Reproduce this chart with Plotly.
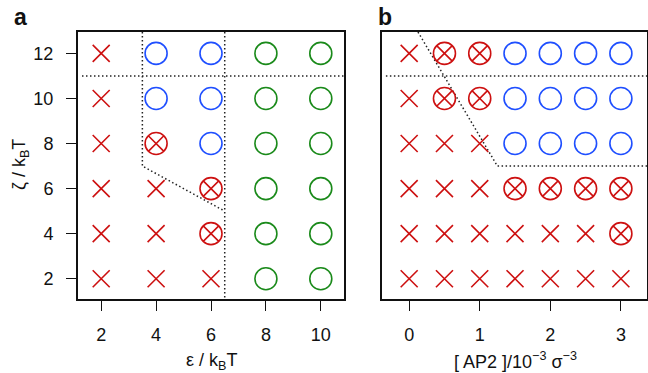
import plotly.graph_objects as go

# ---------------- data ----------------
# Panel a: eps (x) vs zeta (y)
eps_vals = [2, 4, 6, 8, 10]
zeta_vals = [2, 4, 6, 8, 10, 12]
# state codes: "x" = none (red cross), "cx" = red circled cross,
# "b" = blue circle, "g" = green circle ; rows follow zeta_vals
state_a = [
    ["x", "x", "x", "g", "g"],    # zeta 2
    ["x", "x", "cx", "g", "g"],   # zeta 4
    ["x", "x", "cx", "g", "g"],   # zeta 6
    ["x", "cx", "b", "g", "g"],   # zeta 8
    ["x", "b", "b", "g", "g"],    # zeta 10
    ["x", "b", "b", "g", "g"],    # zeta 12
]

# Panel b: [AP2] (x) vs zeta (y)
ap2_vals = [0, 0.5, 1, 1.5, 2, 2.5, 3]
state_b = [
    ["x", "x", "x", "x", "x", "x", "x"],         # zeta 2
    ["x", "x", "x", "x", "x", "x", "cx"],        # zeta 4
    ["x", "x", "x", "cx", "cx", "cx", "cx"],     # zeta 6
    ["x", "x", "x", "b", "b", "b", "b"],         # zeta 8
    ["x", "cx", "cx", "b", "b", "b", "b"],       # zeta 10
    ["x", "cx", "cx", "b", "b", "b", "b"],       # zeta 12
]

# phase boundaries (dotted)
bnd_a1_x = [1.3, 10.845];    bnd_a1_y = [11, 11]
bnd_a2_x = [3.5, 3.5, 6.5];  bnd_a2_y = [12.95, 7, 5]
bnd_a3_x = [6.5, 6.5];       bnd_a3_y = [12.95, 1.1]
bnd_b1_x = [-0.33, 3.37];    bnd_b1_y = [11, 11]
bnd_b2_x = [0.125, 1.25, 3.37]; bnd_b2_y = [12.95, 7, 7]

# ---------------- styles ----------------
RED = "#CD1010"
BLUE = "#1F4FFF"
GREEN = "#1A8A1A"
styles = {
    "x": dict(symbol="x-thin-open", size=17, color=RED, line=dict(color=RED, width=1.6)),
    "cx": dict(symbol="circle-x-open", size=22, color=RED, line=dict(color=RED, width=1.6)),
    "b": dict(symbol="circle-open", size=22, color=BLUE, line=dict(color=BLUE, width=1.6)),
    "g": dict(symbol="circle-open", size=22, color=GREEN, line=dict(color=GREEN, width=1.6)),
}

fig = go.Figure()


def add_panel(xvals, yvals, states, xa, ya):
    for code, mk in styles.items():
        xs, ys = [], []
        for i, yv in enumerate(yvals):
            for j, xv in enumerate(xvals):
                if states[i][j] == code:
                    xs.append(xv)
                    ys.append(yv)
        if xs:
            fig.add_trace(go.Scatter(x=xs, y=ys, mode="markers", marker=mk,
                                     xaxis=xa, yaxis=ya, showlegend=False,
                                     hoverinfo="skip"))


def add_line(xs, ys, xa, ya):
    fig.add_trace(go.Scatter(x=xs, y=ys, mode="lines",
                             line=dict(color="#222222", width=1.5, dash="1.5px,2.5px"),
                             xaxis=xa, yaxis=ya, showlegend=False, hoverinfo="skip"))


add_line(bnd_a1_x, bnd_a1_y, "x", "y")
add_line(bnd_a2_x, bnd_a2_y, "x", "y")
add_line(bnd_a3_x, bnd_a3_y, "x", "y")
add_line(bnd_b1_x, bnd_b1_y, "x2", "y2")
add_line(bnd_b2_x, bnd_b2_y, "x2", "y2")
add_panel(eps_vals, zeta_vals, state_a, "x", "y")
add_panel(ap2_vals, zeta_vals, state_b, "x2", "y2")

W, H = 648, 373
FONT = "Liberation Sans, Arial, sans-serif"
ydom = [1 - 299 / H, 1 - 32 / H]
tickfont = dict(family=FONT, size=18, color="#111111")
common = dict(showline=True, linecolor="#111111", linewidth=2, mirror=True,
              showgrid=False, zeroline=False, ticks="outside", ticklen=10,
              tickwidth=1.3, tickcolor="#111111", tickfont=tickfont)

fig.update_layout(
    width=W, height=H, margin=dict(l=0, r=0, t=0, b=0),
    plot_bgcolor="white", paper_bgcolor="white",
    xaxis=dict(domain=[78 / W, 344 / W], range=[1.155, 10.845],
               tickvals=eps_vals, ticklabelstandoff=8, anchor="y", **common),
    yaxis=dict(domain=ydom, range=[1.1, 12.95], tickvals=zeta_vals,
               ticklabelstandoff=9, anchor="x", **common),
    xaxis2=dict(domain=[382 / W, 647 / W], range=[-0.385, 3.37],
                tickvals=[0, 1, 2, 3], ticklabelstandoff=8, anchor="y2", **common),
    yaxis2=dict(domain=ydom, range=[1.1, 12.95], anchor="x2",
                showline=True, linecolor="#111111", linewidth=2, mirror=True,
                showgrid=False, zeroline=False, ticks="", showticklabels=False),
)

ann_font = dict(family=FONT, size=18, color="#111111")


def ann(text, px, py, font, **kw):
    fig.add_annotation(text=text, x=px / W, y=1 - py / H, xref="paper", yref="paper",
                       xanchor="center", yanchor="middle", showarrow=False,
                       font=font, **kw)


ann("<b>a</b>", 20, 17, dict(family=FONT, size=23, color="#111111"))
ann("<b>b</b>", 385, 17, dict(family=FONT, size=23, color="#111111"))
ann("ε / k<sub>B</sub>T", 211, 361, ann_font)
ann("[ AP2 ]/10<sup>−3</sup> σ<sup>−3</sup>", 515, 360, ann_font)
ann("ζ / k<sub>B</sub>T", 20, 165, ann_font, textangle=-90)

fig.write_html("out.html")
